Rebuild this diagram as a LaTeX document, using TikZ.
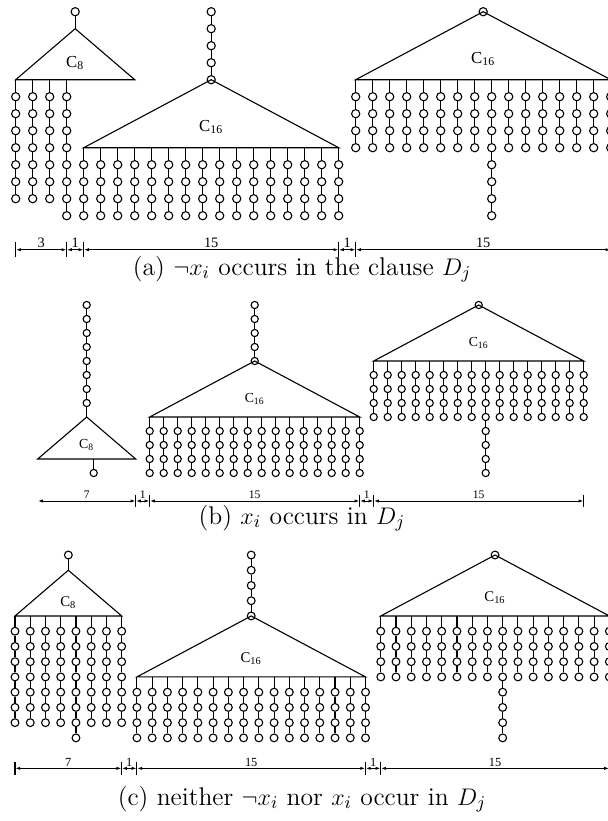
\documentclass[tikz,border=0pt]{standalone}
\usepackage{amsmath}
\usepackage{amssymb}
\usepackage{fontspec}
\usepackage{tikz}
\usetikzlibrary{
	arrows.meta,
	positioning
}
\newfontfamily\labelfont{Liberation Serif}

% a column of vertices joined one below the other
\newcommand{\vchain}[4]{%
	\foreach \r in {#3,...,#4} {
		\node[vert] (#1-\r) at (#2,\r) {};
		\ifnum\r>#3\relax
			\pgfmathtruncatemacro{\q}{\r-1}
			\draw[wire] (#1-\q) -- (#1-\r);
		\fi
	}%
}

\tikzset{
	wire/.style={line width=0.55pt},
	vert/.style={circle, draw, line width=0.55pt, inner sep=0pt, minimum size=\vertdiam},
	dimline/.style={line width=0.5pt, {Latex[length=2.6pt,width=1.6pt]}-{Latex[length=2.6pt,width=1.6pt]}},
	treename/.style={font=\labelfont\treefont, inner sep=0pt},
	dimlabel/.style={font=\labelfont\countfont, above, inner sep=0.8pt},
	captext/.style={font=\fontsize{12.8}{15}\selectfont, inner sep=0pt}
}

\begin{document}
\begin{tikzpicture}[x=0.5pt, y=-0.5pt]
	\useasboundingbox (0,0) rectangle (608,821);
	\clip (0,0) rectangle (608,821);

	% (a)
	\begin{scope}[shift={(15.7,11.7)}, x=8.5pt, y=-8.5pt]
		\def\vertdiam{4.1pt}
		\def\treefont{\fontsize{8.4}{10}\selectfont}
		\def\countfont{\fontsize{7.2}{8}\selectfont}
		% C8 with four legs
		\node[vert] (al-0) at (3.5,0) {};
		\coordinate (al-apex) at (3.5,1);
		\coordinate (al-bl) at (0,4);
		\coordinate (al-br) at (7,4);
		\draw[wire] (al-0) -- (al-apex);
		\draw[wire] (al-apex) -- (al-bl) -- (al-br) -- cycle;
		\node[treename] (al-name) at (3.5,3) {C\textsubscript{8}};
		\foreach \c/\n in {0/11,1/11,2/11,3/12} {
			\coordinate (a\c-foot) at (\c,4);
			\vchain{a\c}{\c}{5}{\n}
			\draw[wire] (a\c-foot) -- (a\c-5);
		}
		% middle C16
		\vchain{am}{11.5}{0}{4}
		\coordinate (am-bl) at (4,8);
		\coordinate (am-br) at (19,8);
		\draw[wire] (am-4.center) -- (am-bl) -- (am-br) -- cycle;
		\node[treename] (am-name) at (11.5,6.8) {C\textsubscript{16}};
		\foreach \c in {4,...,19} {
			\coordinate (a\c-foot) at (\c,8);
			\vchain{a\c}{\c}{9}{12}
			\draw[wire] (a\c-foot) -- (a\c-9);
		}
		% right C16
		\node[vert] (ar-0) at (27.5,0) {};
		\coordinate (ar-bl) at (20,4);
		\coordinate (ar-br) at (35,4);
		\draw[wire] (ar-0.center) -- (ar-bl) -- (ar-br) -- cycle;
		\node[treename] (ar-name) at (27.5,2.8) {C\textsubscript{16}};
		\foreach \c in {20,...,35} {
			\pgfmathtruncatemacro{\n}{ifthenelse(\c==28,12,8)}
			\coordinate (a\c-foot) at (\c,4);
			\vchain{a\c}{\c}{5}{\n}
			\draw[wire] (a\c-foot) -- (a\c-5);
		}
		% widths
		\foreach \t in {0,3,4,19,20,35} {
			\coordinate (ad\t) at (\t,14);
			\draw[wire] (ad\t) ++(0,-0.45) -- ++(0,0.9);
		}
		\foreach \p/\q/\w in {0/3/3,3/4/1,4/19/15,19/20/1,20/35/15}
			\draw[dimline] (ad\p) -- node[dimlabel] (adl\p) {\w} (ad\q);
	\end{scope}

	% (b)
	\begin{scope}[shift={(37.7,305)}, x=7pt, y=-7pt]
		\def\vertdiam{3.6pt}
		\def\treefont{\fontsize{6.9}{8}\selectfont}
		\def\countfont{\fontsize{5.8}{7}\selectfont}
		% C8 hanging from a long chain
		\vchain{bl}{3.5}{0}{7}
		\coordinate (bl-apex) at (3.5,8);
		\coordinate (bl-bl) at (0,11);
		\coordinate (bl-br) at (7,11);
		\draw[wire] (bl-7) -- (bl-apex);
		\draw[wire] (bl-apex) -- (bl-bl) -- (bl-br) -- cycle;
		\node[treename] (bl-name) at (3.5,10) {C\textsubscript{8}};
		\coordinate (b4-foot) at (4,11);
		\node[vert] (b4-12) at (4,12) {};
		\draw[wire] (b4-foot) -- (b4-12);
		% middle C16
		\vchain{bm}{15.5}{0}{4}
		\coordinate (bm-bl) at (8,8);
		\coordinate (bm-br) at (23,8);
		\draw[wire] (bm-4.center) -- (bm-bl) -- (bm-br) -- cycle;
		\node[treename] (bm-name) at (15.5,6.7) {C\textsubscript{16}};
		\foreach \c in {8,...,23} {
			\coordinate (b\c-foot) at (\c,8);
			\vchain{b\c}{\c}{9}{12}
			\draw[wire] (b\c-foot) -- (b\c-9);
		}
		% right C16
		\node[vert] (br-0) at (31.5,0) {};
		\coordinate (br-bl) at (24,4);
		\coordinate (br-br) at (39,4);
		\draw[wire] (br-0.center) -- (br-bl) -- (br-br) -- cycle;
		\node[treename] (br-name) at (31.5,2.7) {C\textsubscript{16}};
		\foreach \c in {24,...,39} {
			\pgfmathtruncatemacro{\n}{ifthenelse(\c==32,12,8)}
			\coordinate (b\c-foot) at (\c,4);
			\vchain{b\c}{\c}{5}{\n}
			\draw[wire] (b\c-foot) -- (b\c-5);
		}
		% widths
		\coordinate (bd0) at (0,14);
		\foreach \t in {7,8,23,24,39} {
			\coordinate (bd\t) at (\t,14);
			\draw[wire] (bd\t) ++(0,-0.45) -- ++(0,0.9);
		}
		\foreach \p/\q/\w in {0/7/7,7/8/1,8/23/15,23/24/1,24/39/15}
			\draw[dimline] (bd\p) -- node[dimlabel] (bdl\p) {\w} (bd\q);
	\end{scope}

	% (c)
	\begin{scope}[shift={(15,555)}, x=7.62pt, y=-7.62pt]
		\def\vertdiam{3.9pt}
		\def\treefont{\fontsize{7.4}{9}\selectfont}
		\def\countfont{\fontsize{6.2}{7}\selectfont}
		% C8 with eight legs
		\node[vert] (cl-0) at (3.5,0) {};
		\coordinate (cl-apex) at (3.5,1);
		\coordinate (cl-bl) at (0,4);
		\coordinate (cl-br) at (7,4);
		\draw[wire] (cl-0) -- (cl-apex);
		\draw[wire] (cl-apex) -- (cl-bl) -- (cl-br) -- cycle;
		\node[treename] (cl-name) at (3.5,3.1) {C\textsubscript{8}};
		\foreach \c in {0,...,7} {
			\pgfmathtruncatemacro{\n}{ifthenelse(\c==4,12,11)}
			\coordinate (c\c-foot) at (\c,4);
			\vchain{c\c}{\c}{5}{\n}
			\draw[wire] (c\c-foot) -- (c\c-5);
		}
		% middle C16
		\vchain{cm}{15.5}{0}{4}
		\coordinate (cm-bl) at (8,8);
		\coordinate (cm-br) at (23,8);
		\draw[wire] (cm-4.center) -- (cm-bl) -- (cm-br) -- cycle;
		\node[treename] (cm-name) at (15.5,6.8) {C\textsubscript{16}};
		\foreach \c in {8,...,23} {
			\coordinate (c\c-foot) at (\c,8);
			\vchain{c\c}{\c}{9}{12}
			\draw[wire] (c\c-foot) -- (c\c-9);
		}
		% right C16
		\node[vert] (cr-0) at (31.5,0) {};
		\coordinate (cr-bl) at (24,4);
		\coordinate (cr-br) at (39,4);
		\draw[wire] (cr-0.center) -- (cr-bl) -- (cr-br) -- cycle;
		\node[treename] (cr-name) at (31.5,2.8) {C\textsubscript{16}};
		\foreach \c in {24,...,39} {
			\pgfmathtruncatemacro{\n}{ifthenelse(\c==32,12,8)}
			\coordinate (c\c-foot) at (\c,4);
			\vchain{c\c}{\c}{5}{\n}
			\draw[wire] (c\c-foot) -- (c\c-5);
		}
		% widths
		\foreach \t in {0,7,8,23,24,39} {
			\coordinate (cd\t) at (\t,14);
			\draw[wire] (cd\t) ++(0,-0.45) -- ++(0,0.9);
		}
		\foreach \p/\q/\w in {0/7/7,7/8/1,8/23/15,23/24/1,24/39/15}
			\draw[dimline] (cd\p) -- node[dimlabel] (cdl\p) {\w} (cd\q);
	\end{scope}

	% captions
	\node[captext] (cap-a) at (302,269) {(a) $\neg x_i$ occurs in the clause $D_j$};
	\node[captext] (cap-b) at (302,518) {(b) $x_i$ occurs in $D_j$};
	\node[captext] (cap-c) at (302,799) {(c) neither $\neg x_i$ nor $x_i$ occur in $D_j$};
\end{tikzpicture}
\end{document}
